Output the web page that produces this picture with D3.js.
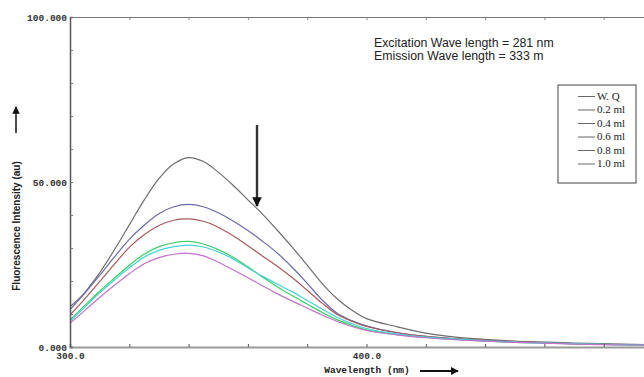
<!DOCTYPE html>
<html>
<head>
<meta charset="utf-8">
<script src="https://cdn.jsdelivr.net/npm/d3@7"></script>
<style>
  html, body { margin: 0; padding: 0; background: #fff; }
  svg { display: block; }
  .tick text { font-family: "Liberation Mono", monospace; font-weight: bold; font-size: 9.5px; fill: #333; }
</style>
</head>
<body>
<div id="chart"></div>
<script>
const width = 644;
const height = 377;
const margin = { top: 17, right: -19, bottom: 30, left: 70 };

// wavelengths (nm) the spectra were read at
const wavelengths = [300, 305, 310, 315, 320, 325, 330, 335, 340, 345, 350, 355, 360, 365, 370, 375, 380, 385, 390, 395, 400,
  410, 420, 430, 440, 450, 460, 470, 480, 490, 500];

// fluorescence intensity (au), one array per series
const wq = [12.2, 16.5, 22.5, 29.5, 37.0, 44.5, 51.0, 55.5, 57.4, 56.2, 53.0, 49.0, 44.6, 40.2, 35.3, 30.2, 24.8, 19.3, 14.7, 11.2, 8.6,
  6.2, 4.2, 3.0, 2.3, 1.8, 1.5, 1.2, 1.0, 0.8, 0.7];
const ml02 = [11.3, 16.3, 21.7, 27.3, 32.6, 36.9, 40.4, 42.5, 43.2, 42.5, 40.7, 38.2, 35.3, 32.0, 28.4, 24.1, 19.3, 14.3, 10.3, 8.0, 6.4,
  4.4, 3.2, 2.5, 2.0, 1.6, 1.3, 1.0, 0.8, 0.7, 0.6];
const ml04 = [9.7, 14.6, 19.8, 25.1, 30.2, 34.0, 36.8, 38.4, 38.8, 38.1, 36.3, 33.7, 30.7, 27.5, 24.4, 21.0, 17.2, 13.3, 9.9, 7.8, 6.2,
  4.4, 3.2, 2.5, 2.0, 1.6, 1.3, 1.0, 0.8, 0.7, 0.6];
const ml06 = [8.2, 12.6, 16.9, 20.9, 24.8, 28.1, 30.4, 31.6, 32.0, 31.2, 29.5, 27.2, 24.3, 21.1, 18.2, 15.5, 13.0, 10.5, 8.3, 6.6, 5.2,
  3.8, 2.9, 2.3, 1.8, 1.4, 1.2, 1.0, 0.8, 0.6, 0.5];
const ml08 = [7.8, 12.1, 16.4, 20.3, 24.0, 27.2, 29.3, 30.4, 30.9, 30.3, 28.8, 26.7, 24.0, 21.4, 19.0, 16.7, 14.1, 11.5, 9.0, 7.1, 5.6,
  4.0, 3.0, 2.4, 1.9, 1.5, 1.2, 1.0, 0.8, 0.6, 0.5];
const ml10 = [7.2, 11.1, 15.0, 18.7, 22.2, 25.2, 27.1, 28.1, 28.4, 27.6, 25.7, 23.4, 21.0, 18.5, 16.1, 13.9, 11.8, 9.7, 7.8, 6.2, 5.0,
  3.7, 2.8, 2.2, 1.8, 1.4, 1.2, 0.9, 0.7, 0.6, 0.5];

const seriesNames = ["W. Q", "0.2 ml", "0.4 ml", "0.6 ml", "0.8 ml", "1.0 ml"];
const seriesValues = [wq, ml02, ml04, ml06, ml08, ml10];
const seriesColors = ["#6e6e6e", "#6a6aa8", "#a8585c", "#3ccf6c", "#44d2d2", "#c272cc"];

const xTicks = [300, 320, 340, 360, 380, 400, 420, 440, 460, 480, 500];
const xLabels = [300, 400];
const yTicks = [0, 10, 20, 30, 40, 50, 60, 70, 80, 90, 100];
const yLabels = [0, 50, 100];

const annotations = ["Excitation Wave length = 281 nm", "Emission Wave length = 333 m"];

const usableArea = {
  top: margin.top,
  bottom: height - margin.bottom,
  left: margin.left,
  right: width - margin.right,
};

const svg = d3.select("#chart")
  .append("svg")
  .attr("width", width)
  .attr("height", height);

const xScale = d3.scaleLinear().domain([300, 500]).range([usableArea.left, usableArea.right]);
const yScale = d3.scaleLinear().domain([0, 100]).range([usableArea.bottom, usableArea.top]);

// top frame line with small inward ticks
svg.append("g")
  .attr("transform", `translate(0, ${usableArea.top})`)
  .call(d3.axisBottom(xScale).tickValues(xTicks).tickSize(3).tickFormat(""))
  .call(g => g.select(".domain").attr("stroke", "#777").attr("stroke-width", 1))
  .call(g => g.selectAll(".tick line").attr("stroke", "#888"));

// curves
const line = d3.line()
  .x((d, i) => xScale(wavelengths[i]))
  .y(d => yScale(d))
  .curve(d3.curveCatmullRom);

svg.append("g")
  .selectAll("path")
  .data(seriesValues)
  .join("path")
  .attr("d", d => line(d))
  .attr("fill", "none")
  .attr("stroke", (d, i) => seriesColors[i])
  .attr("stroke-width", 1.2);

// bottom axis
svg.append("g")
  .attr("transform", `translate(0, ${usableArea.bottom})`)
  .call(d3.axisBottom(xScale).tickValues(xTicks).tickSize(-3).tickFormat(""))
  .call(g => g.select(".domain").attr("stroke", "#999").attr("stroke-width", 2))
  .call(g => g.selectAll(".tick line").attr("stroke", "#555"));

svg.append("g")
  .attr("transform", `translate(0, ${usableArea.bottom})`)
  .call(d3.axisBottom(xScale).tickValues(xLabels).tickSize(0).tickPadding(5).tickFormat(d3.format(".1f")))
  .call(g => g.select(".domain").remove());

// left axis
svg.append("g")
  .attr("transform", `translate(${usableArea.left}, 0)`)
  .call(d3.axisRight(yScale).tickValues(yTicks).tickSize(3).tickFormat(""))
  .call(g => g.select(".domain").attr("stroke", "#555").attr("stroke-width", 1.5))
  .call(g => g.selectAll(".tick line").attr("stroke", "#777"));

svg.append("g")
  .attr("transform", `translate(${usableArea.left}, 0)`)
  .call(d3.axisLeft(yScale).tickValues(yLabels).tickSize(0).tickPadding(3).tickFormat(d3.format(".3f")))
  .call(g => g.select(".domain").remove());

// axis titles
svg.append("text")
  .attr("x", 367)
  .attr("y", 373)
  .attr("text-anchor", "middle")
  .style("font-family", "Liberation Mono, monospace")
  .style("font-weight", "bold")
  .style("font-size", "9.5px")
  .style("fill", "#222")
  .text("Wavelength (nm)");

svg.append("text")
  .attr("transform", "translate(20, 226) rotate(-90)")
  .attr("text-anchor", "middle")
  .style("font-family", "Liberation Sans, Arial, sans-serif")
  .style("font-weight", "bold")
  .style("font-size", "10px")
  .style("fill", "#222")
  .text("Fluorescence Intensity (au)");

// arrows
const defs = svg.append("defs");
defs.append("marker")
  .attr("id", "head")
  .attr("viewBox", "0 0 10 10")
  .attr("refX", 9).attr("refY", 5)
  .attr("markerWidth", 4).attr("markerHeight", 4)
  .attr("orient", "auto")
  .append("path")
  .attr("d", "M0,0 L10,5 L0,10 z")
  .attr("fill", "#111");

defs.append("marker")
  .attr("id", "headSmall")
  .attr("viewBox", "0 0 10 10")
  .attr("refX", 9).attr("refY", 5)
  .attr("markerWidth", 5).attr("markerHeight", 5)
  .attr("orient", "auto")
  .append("path")
  .attr("d", "M0,0 L10,5 L0,10 z")
  .attr("fill", "#111");

svg.append("line")
  .attr("x1", 420).attr("y1", 371).attr("x2", 458).attr("y2", 371)
  .attr("stroke", "#111").attr("stroke-width", 2)
  .attr("marker-end", "url(#head)");

svg.append("line")
  .attr("x1", 16).attr("y1", 133).attr("x2", 16).attr("y2", 107)
  .attr("stroke", "#111").attr("stroke-width", 1.5)
  .attr("marker-end", "url(#headSmall)");

svg.append("line")
  .attr("x1", 257).attr("y1", 125).attr("x2", 257).attr("y2", 206)
  .attr("stroke", "#333").attr("stroke-width", 2.4)
  .attr("marker-end", "url(#head)");

// annotation text
svg.append("g")
  .selectAll("text")
  .data(annotations)
  .join("text")
  .attr("x", 374)
  .attr("y", (d, i) => 46.5 + i * 13.5)
  .style("font-family", "Liberation Sans, Arial, sans-serif")
  .style("font-size", "12.3px")
  .style("fill", "#222")
  .text(d => d);

// legend
const legend = svg.append("g");
legend.append("rect")
  .attr("x", 558).attr("y", 85).attr("width", 78).attr("height", 98)
  .attr("fill", "#fff").attr("stroke", "#444").attr("stroke-width", 1);

const items = legend.selectAll("g.item")
  .data(seriesNames)
  .join("g")
  .attr("class", "item")
  .attr("transform", (d, i) => `translate(0, ${95.5 + i * 13.5})`);

items.append("line")
  .attr("x1", 578).attr("x2", 595)
  .attr("y1", 1).attr("y2", 1)
  .attr("stroke", "#666").attr("stroke-width", 1);

items.append("text")
  .attr("x", 597)
  .attr("y", 4)
  .style("font-family", "Liberation Serif, Times New Roman, serif")
  .style("font-size", "11px")
  .style("fill", "#222")
  .text(d => d);
</script>
</body>
</html>
